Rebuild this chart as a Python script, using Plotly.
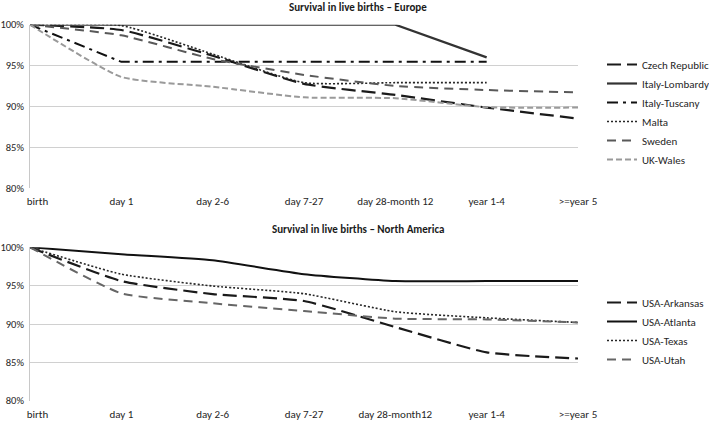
import plotly.graph_objects as go

categories_eu = ["birth", "day 1", "day 2-6", "day 7-27", "day 28-month 12", "year 1-4", ">=year 5"]
categories_na = ["birth", "day 1", "day 2-6", "day 7-27", "day 28-month12", "year 1-4", ">=year 5"]

czech_republic = [100, 99.35, 96.2, 92.75, 91.4, 89.85, 88.5]
italy_lombardy = [100, 100, 100, 100, 100, 96.0, None]
italy_tuscany = [100, 95.45, 95.45, 95.45, 95.45, 95.45, None]
malta = [100, 99.9, 96.4, 92.9, 92.9, 92.9, None]
sweden = [100, 98.7, 95.8, 93.85, 92.5, 92.0, 91.7]
uk_wales = [100, 93.6, 92.4, 91.1, 91.0, 89.9, 89.85]

usa_arkansas = [100, 95.6, 93.9, 93.0, 89.6, 86.3, 85.5]
usa_atlanta = [100, 99.1, 98.3, 96.5, 95.6, 95.6, 95.6]
usa_texas = [100, 96.5, 94.95, 93.95, 91.6, 90.8, 90.2]
usa_utah = [100, 94.0, 92.7, 91.7, 90.7, 90.6, 90.2]

y_ticks = [80, 85, 90, 95, 100]
y_ticktext = ["80%", "85%", "90%", "95%", "100%"]

FONT = "Carlito, 'Liberation Sans Narrow', Roboto, sans-serif"
NB = "\u00a0"

fig = go.Figure()

eu_series = [
    ("Czech Republic", czech_republic, "#1a1a1a", 2.2, "14px,6px", "spline"),
    ("Italy-Lombardy", italy_lombardy, "#333333", 2.2, "solid", "linear"),
    ("Italy-Tuscany", italy_tuscany, "#111111", 2.0, "11px,5px,3px,5px", "linear"),
    ("Malta", malta, "#262626", 1.6, "2px,2px", "spline"),
    ("Sweden", sweden, "#595959", 2.0, "9px,6px", "spline"),
    ("UK-Wales", uk_wales, "#9a9a9a", 2.0, "6px,3px", "spline"),
]
for name, vals, col, w, dash, shape in eu_series:
    fig.add_trace(go.Scatter(
        x=categories_eu, y=vals, name=name, mode="lines",
        line=dict(color=col, width=w, dash=dash, shape=shape, smoothing=0.5),
        xaxis="x", yaxis="y", legend="legend", connectgaps=False,
    ))

na_series = [
    ("USA-Arkansas", usa_arkansas, "#1a1a1a", 2.2, "14px,6px", "spline"),
    ("USA-Atlanta", usa_atlanta, "#111111", 2.0, "solid", "spline"),
    ("USA-Texas", usa_texas, "#262626", 1.6, "2px,2px", "spline"),
    ("USA-Utah", usa_utah, "#666666", 2.0, "9px,6px", "spline"),
]
for name, vals, col, w, dash, shape in na_series:
    fig.add_trace(go.Scatter(
        x=categories_na, y=vals, name=name, mode="lines",
        line=dict(color=col, width=w, dash=dash, shape=shape, smoothing=0.5),
        xaxis="x2", yaxis="y2", legend="legend2",
    ))

W, H = 709, 422
def ydom(top_px, bot_px):
    return [1 - bot_px / H, 1 - top_px / H]
xdom = [30 / W, 578 / W]

def xaxis_cfg(cats, anchor):
    ticktext = [NB * 6 + cats[0]] + cats[1:]
    return dict(
        domain=xdom, anchor=anchor, type="category", categoryorder="array",
        categoryarray=cats, range=[0, 6], showgrid=False, zeroline=False,
        showline=False, tickmode="array", tickvals=cats, ticktext=ticktext,
        ticks="", ticklabelstandoff=5, automargin=False,
        tickfont=dict(family=FONT, size=11, color="#262626"),
    )

def yaxis_cfg(dom, anchor):
    return dict(
        domain=dom, anchor=anchor, range=[80, 100], tickmode="array",
        tickvals=y_ticks, ticktext=y_ticktext, showgrid=True,
        gridcolor="#d0d0d0", gridwidth=1, zeroline=False,
        showline=True, linecolor="#c8c8c8", linewidth=1, ticks="",
        ticklabelstandoff=3, automargin=False,
        tickfont=dict(family=FONT, size=10.5, color="#262626"),
    )

fig.update_layout(
    width=W, height=H,
    margin=dict(l=0, r=0, t=0, b=0, autoexpand=False),
    paper_bgcolor="white", plot_bgcolor="white",
    xaxis=xaxis_cfg(categories_eu, "y"),
    yaxis=yaxis_cfg(ydom(24.7, 188), "x"),
    xaxis2=xaxis_cfg(categories_na, "y2"),
    yaxis2=yaxis_cfg(ydom(247.3, 400.7), "x2"),
    legend=dict(x=602 / W, xanchor="left", y=1 - 50 / H, yanchor="top",
                font=dict(family=FONT, size=11, color="#262626"),
                bgcolor="rgba(0,0,0,0)", itemwidth=30, tracegroupgap=0),
    legend2=dict(x=602 / W, xanchor="left", y=1 - 288 / H, yanchor="top",
                 font=dict(family=FONT, size=11, color="#262626"),
                 bgcolor="rgba(0,0,0,0)", itemwidth=30, tracegroupgap=0),
    annotations=[
        dict(text="<b>Survival in live births \u2013 Europe</b>", x=358 / W, y=1 - 7 / H,
             xref="paper", yref="paper", showarrow=False, xanchor="center", yanchor="middle",
             font=dict(family=FONT, size=11, color="#1a1a1a")),
        dict(text="<b>Survival in live births \u2013 North America</b>", x=358 / W, y=1 - 229 / H,
             xref="paper", yref="paper", showarrow=False, xanchor="center", yanchor="middle",
             font=dict(family=FONT, size=11, color="#1a1a1a")),
    ],
)

fig.write_html(
    "out.html",
    config={"displayModeBar": False},
    post_script="document.body.style.margin='0';document.body.style.overflow='hidden';",
)
